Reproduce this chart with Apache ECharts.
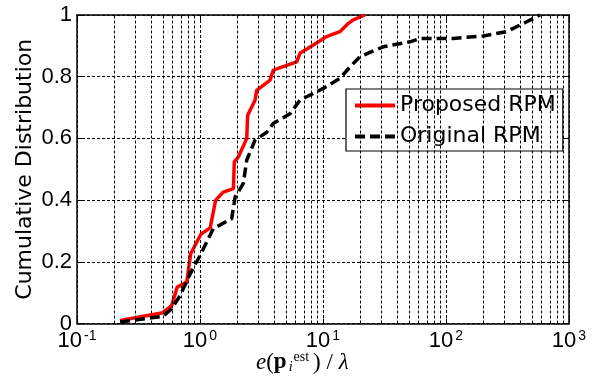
<!DOCTYPE html>
<html>
<head>
<meta charset="utf-8">
<title>Cumulative Distribution</title>
<script src="https://cdn.jsdelivr.net/npm/echarts@6/dist/echarts.min.js"></script>
</head>
<body style="margin:0">
<div id="main" style="width:598px;height:383px;"></div>
<script type="text/javascript">
// values
var proposedX = [0.224, 0.498, 0.589, 0.653, 0.78, 0.84, 1.02, 1.21, 1.34, 1.55, 1.87, 1.90, 2.05, 2.40, 2.44, 2.80, 2.89, 3.71, 3.94, 6.11, 6.5, 8.34, 10.7, 13.7, 16.1, 17.6, 21.9];
var proposedY = [0.01, 0.035, 0.058, 0.118, 0.134, 0.226, 0.29, 0.31, 0.40, 0.426, 0.437, 0.524, 0.54, 0.60, 0.675, 0.724, 0.756, 0.789, 0.821, 0.848, 0.876, 0.903, 0.93, 0.946, 0.973, 0.984, 1.0];
var originalX = [0.224, 0.50, 0.589, 0.687, 0.83, 1.0, 1.28, 1.81, 1.93, 2.25, 2.40, 2.80, 3.49, 3.94, 5.39, 6.5, 10.05, 13.7, 16.6, 20.0, 30.9, 50.9, 61.5, 114.6, 201, 311, 453, 581];
var originalY = [0.005, 0.023, 0.048, 0.09, 0.16, 0.22, 0.307, 0.34, 0.41, 0.454, 0.53, 0.594, 0.62, 0.648, 0.68, 0.724, 0.762, 0.794, 0.832, 0.865, 0.897, 0.913, 0.924, 0.924, 0.932, 0.946, 0.978, 1.0];
var seriesNames = ['Proposed RPM', 'Original RPM'];
// minor log grid positions
var minorGrid = [0.2, 0.3, 0.4, 0.5, 0.6, 0.7, 0.8, 0.9,
                 2, 3, 4, 5, 6, 7, 8, 9,
                 20, 30, 40, 50, 60, 70, 80, 90,
                 200, 300, 400, 500, 600, 700, 800, 900];

function zip(xs, ys) {
    return xs.map(function (x, i) { return [x, ys[i]]; });
}

var gridStyle = { color: '#000', width: 1, type: [3, 2] };
var numFont = 'Liberation Sans, Arial, sans-serif';

var myChart = echarts.init(document.getElementById('main'));
var option = {
    animation: false,
    grid: { left: 77, right: 29, top: 15, bottom: 59.5 },
    legend: {
        data: seriesNames,
        orient: 'vertical',
        left: 346,
        top: 89,
        padding: [4, 7, 2, 7],
        itemGap: 6,
        itemWidth: 40,
        itemHeight: 14,
        backgroundColor: '#fff',
        borderColor: '#000',
        borderWidth: 1.2,
        itemStyle: { opacity: 0 },
        lineStyle: { width: 4 },
        textStyle: { fontFamily: 'DejaVu Sans', fontSize: 22, color: '#000', lineHeight: 25, padding: [0, 0, 0, 0] }
    },
    xAxis: [{
        type: 'log',
        logBase: 10,
        min: 0.1,
        max: 1000,
        axisLine: { show: true, onZero: false, lineStyle: { color: '#000', width: 1.5 } },
        axisTick: { show: true, inside: true, length: 5, lineStyle: { color: '#000' } },
        splitLine: { show: true, lineStyle: gridStyle },
        axisLabel: {
            margin: 6,
            formatter: function (v) {
                var e = Math.round(Math.log10(v));
                return '{b|10}{s|' + e + '}';
            },
            rich: {
                b: { fontFamily: numFont, fontSize: 22, lineHeight: 22, color: '#000', verticalAlign: 'bottom' },
                s: { fontFamily: numFont, fontSize: 14, lineHeight: 14, color: '#000', verticalAlign: 'top', padding: [0, 0, 14, 2] }
            }
        }
    }, {
        type: 'log',
        logBase: 10,
        min: 0.1,
        max: 1000,
        position: 'top',
        axisLine: { show: true, onZero: false, lineStyle: { color: '#000', width: 1.5 } },
        axisTick: { show: true, inside: true, length: 5, lineStyle: { color: '#000' } },
        axisLabel: { show: false },
        splitLine: { show: false }
    }],
    yAxis: [{
        type: 'value',
        min: 0,
        max: 1,
        interval: 0.2,
        name: 'Cumulative Distribution',
        nameLocation: 'middle',
        nameGap: 41,
        nameMoveOverlap: false,
        nameTextStyle: { fontFamily: 'DejaVu Sans', fontSize: 22, color: '#000' },
        axisLine: { show: true, onZero: false, lineStyle: { color: '#000', width: 1.5 } },
        axisTick: { show: true, inside: true, length: 5, lineStyle: { color: '#000' } },
        splitLine: { show: true, lineStyle: gridStyle },
        axisLabel: { margin: 5, fontFamily: numFont, fontSize: 22, color: '#000' }
    }, {
        type: 'value',
        min: 0,
        max: 1,
        interval: 0.2,
        position: 'right',
        axisLine: { show: true, onZero: false, lineStyle: { color: '#000', width: 1.5 } },
        axisTick: { show: true, inside: true, length: 5, lineStyle: { color: '#000' } },
        axisLabel: { show: false },
        splitLine: { show: false }
    }],
    graphic: [{
        type: 'text',
        left: 256,
        top: 350,
        style: {
            text: '{it|e}{n|(}{bd|p}{sub|i}{sup|est}{n|) / }{it|λ}',
            rich: {
                it: { fontFamily: 'Liberation Serif', fontStyle: 'italic', fontSize: 23, lineHeight: 24, verticalAlign: 'bottom', fill: '#000' },
                n: { fontFamily: 'Liberation Serif', fontSize: 23, lineHeight: 24, verticalAlign: 'bottom', fill: '#000' },
                bd: { fontFamily: 'Liberation Serif', fontWeight: 'bold', fontSize: 23, lineHeight: 24, verticalAlign: 'bottom', fill: '#000' },
                sub: { fontFamily: 'Liberation Serif', fontStyle: 'italic', fontSize: 14, lineHeight: 13, verticalAlign: 'bottom', padding: [0, 0, 0, 2], fill: '#000' },
                sup: { fontFamily: 'Liberation Serif', fontSize: 14, lineHeight: 12, verticalAlign: 'top', padding: [0, 4, 22, 1], fill: '#000' }
            }
        }
    }],
    series: [{
        type: 'line',
        data: [],
        silent: true,
        z: 1,
        markLine: {
            silent: true,
            symbol: ['none', 'none'],
            label: { show: false },
            lineStyle: gridStyle,
            data: minorGrid.map(function (v) { return { xAxis: v }; })
        }
    }, {
        name: seriesNames[0],
        type: 'line',
        symbol: 'none',
        z: 3,
        data: zip(proposedX, proposedY),
        itemStyle: { color: '#ff0000' },
        lineStyle: { color: '#ff0000', width: 3.5 }
    }, {
        name: seriesNames[1],
        type: 'line',
        symbol: 'none',
        z: 4,
        data: zip(originalX, originalY),
        itemStyle: { color: '#000' },
        lineStyle: { color: '#000', width: 3.5, type: [10, 5] }
    }]
};
myChart.setOption(option);
</script>
</body>
</html>
